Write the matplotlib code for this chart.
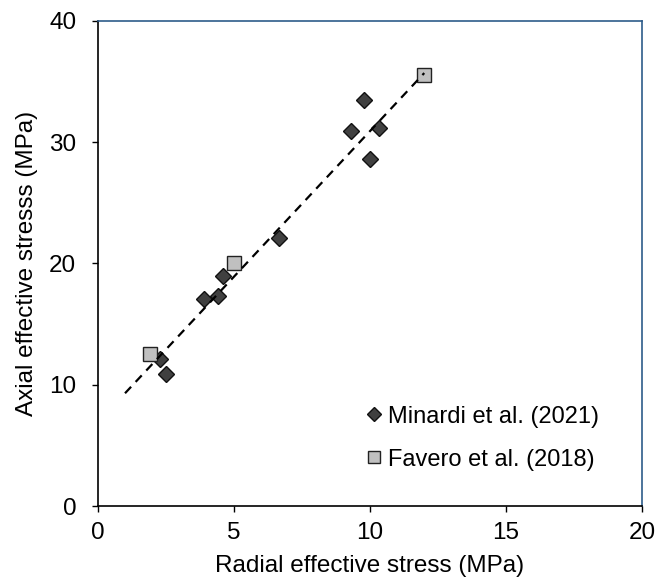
import matplotlib
matplotlib.use("Agg")
import matplotlib.pyplot as plt

plt.rcParams['font.family'] = ['Liberation Sans', 'DejaVu Sans']

# Minardi et al. (2021)
minardi_x = [2.3, 2.5, 3.9, 4.4, 4.6, 6.65, 9.3, 9.8, 10.0, 10.35]
minardi_y = [12.1, 10.9, 17.1, 17.3, 19.0, 22.1, 30.9, 33.5, 28.6, 31.2]

# Favero et al. (2018)
favero_x = [1.9, 5.0, 12.0]
favero_y = [12.5, 20.0, 35.5]

# trend line end points
fit_x = [1.0, 12.0]
fit_y = [9.3, 35.7]

fig = plt.figure(figsize=(6.7, 5.81), dpi=100)
ax = fig.add_axes([0.146, 0.129, 0.812, 0.835])

ax.plot(minardi_x, minardi_y, linestyle='none', marker='D', markersize=8.5,
        markerfacecolor='#404040', markeredgecolor='#111111', markeredgewidth=1,
        label='Minardi et al. (2021)', zorder=3)
ax.plot(favero_x, favero_y, linestyle='none', marker='s', markersize=10,
        markerfacecolor='#c0c0c0', markeredgecolor='#222222', markeredgewidth=1,
        label='Favero et al. (2018)', zorder=3)
ax.plot(fit_x, fit_y, color='black', linestyle=(0, (4, 3)), linewidth=1.6, zorder=4)

ax.set_xlim(0, 20)
ax.set_ylim(0, 40)
ax.set_xticks([0, 5, 10, 15, 20])
ax.set_yticks([0, 10, 20, 30, 40])
ax.tick_params(direction='out', length=4.5, width=1, labelsize=17.5, colors='black')
ax.tick_params(axis='x', pad=7)
ax.tick_params(axis='y', pad=11)

ax.spines['left'].set_color('black')
ax.spines['bottom'].set_color('black')
ax.spines['top'].set_color('#2e5c8a')
ax.spines['right'].set_color('#2e5c8a')
for s in ax.spines.values():
    s.set_linewidth(1.2)

ax.set_xlabel('Radial effective stress (MPa)', fontsize=17.5, labelpad=8)
ax.set_ylabel('Axial effective stresss (MPa)', fontsize=17.5, labelpad=8)

ax.legend(loc='center left', bbox_to_anchor=(0.455, 0.14), frameon=False,
          fontsize=17, handlelength=0.6, handletextpad=0.3, labelspacing=0.9,
          markerscale=0.85)

fig.savefig('out.png', dpi=100)
